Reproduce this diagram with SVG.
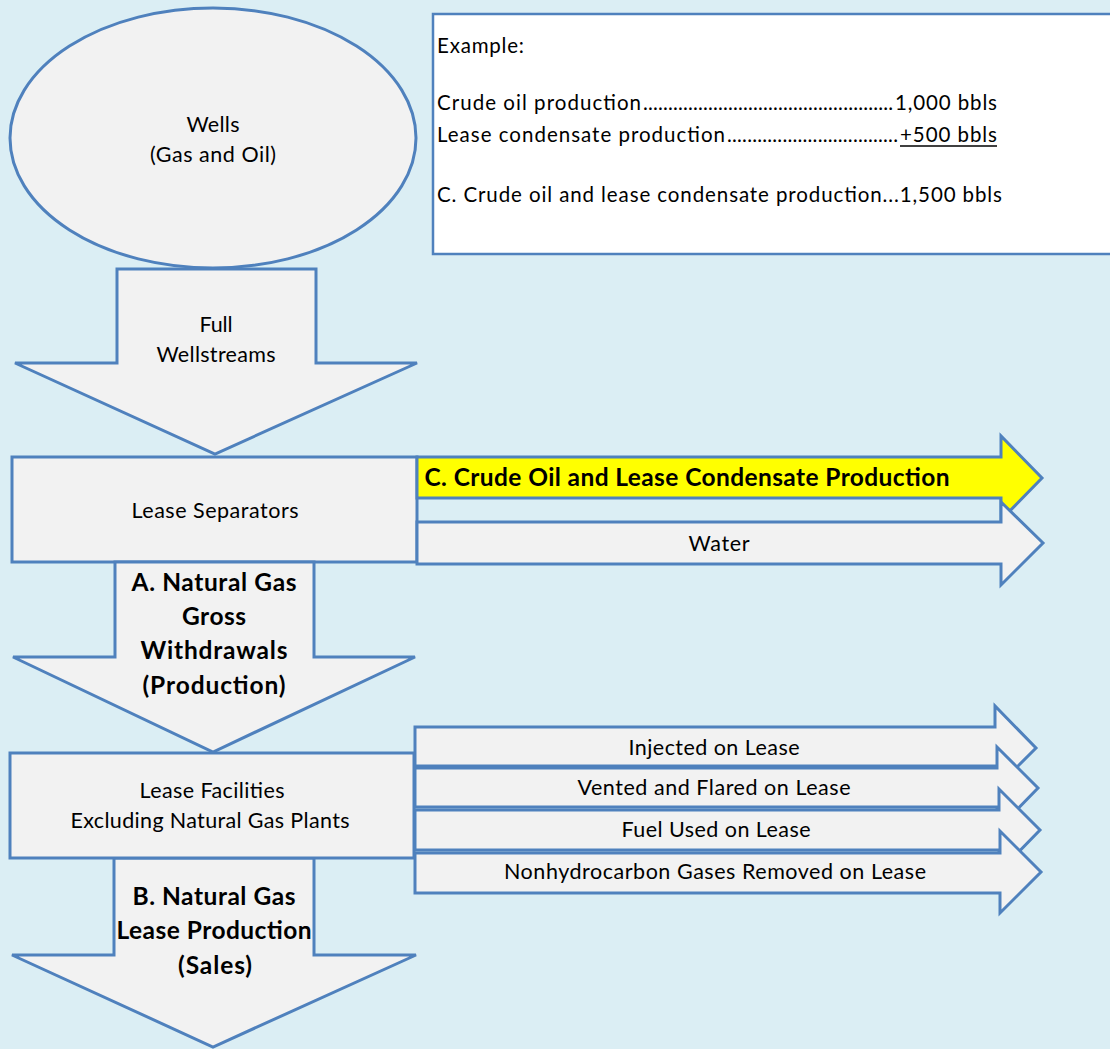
<svg xmlns="http://www.w3.org/2000/svg" width="1110" height="1049" viewBox="0 0 1110 1049">
<style>
.s{fill:#F2F2F2;stroke:#4F81BD;stroke-width:3;stroke-linejoin:miter}
.y{fill:#FFFF00;stroke:#4F81BD;stroke-width:3}
.t{font-family:Lato,"Liberation Sans",sans-serif;font-size:21.5px;fill:#000;text-anchor:middle}
.b{font-family:Lato,"Liberation Sans",sans-serif;font-size:24.5px;font-weight:bold;fill:#000;text-anchor:middle}
.e{font-family:Lato,"Liberation Sans",sans-serif;font-size:20.5px;fill:#000}
</style>
<rect width="1110" height="1049" fill="#DBEEF4"/>
<g id="example-box">
<rect x="433" y="14" width="690" height="240" fill="#FFFFFF" stroke="#4F81BD" stroke-width="2.5"/>
<text class="e" x="437" y="53" textLength="87" lengthAdjust="spacing">Example:</text>
<text class="e" x="437" y="110" textLength="204" lengthAdjust="spacing">Crude  oil  production</text>
<text class="e" x="643" y="110" textLength="250" lengthAdjust="spacing">..................................................</text>
<text class="e" x="895" y="110" textLength="102" lengthAdjust="spacing">1,000  bbls</text>
<text class="e" x="437" y="142" textLength="288" lengthAdjust="spacing">Lease  condensate  production</text>
<text class="e" x="727" y="142" textLength="171" lengthAdjust="spacing">..................................</text>
<text class="e" x="900" y="142" textLength="97" lengthAdjust="spacing">+500  bbls</text>
<line x1="900" y1="146" x2="997" y2="146" stroke="#000" stroke-width="1.5"/>
<text class="e" x="437" y="202" textLength="565" lengthAdjust="spacing">C. Crude oil and lease condensate production...1,500 bbls</text>
</g>
<g id="wells">
<ellipse class="s" cx="213" cy="138" rx="203" ry="130"/>
<text class="t" x="213" y="132" textLength="53" lengthAdjust="spacing">Wells</text>
<text class="t" x="213" y="162" textLength="126" lengthAdjust="spacing">(Gas and Oil)</text>
</g>
<g id="connectors">
<g id="full-wellstreams">
<polygon class="s" points="117,269 316,269 316,363 417,363 215,454 15,363 117,363"/>
<text class="t" x="216" y="332" textLength="33" lengthAdjust="spacing">Full</text>
<text class="t" x="216" y="362" textLength="119" lengthAdjust="spacing">Wellstreams</text>
</g>
</g>
<g id="lease-separators">
<rect class="s" x="12" y="457" width="405" height="105"/>
<text class="t" x="215" y="518" textLength="167" lengthAdjust="spacing">Lease  Separators</text>
</g>
<g id="connectors-2">
<g id="crude-oil">
<polygon class="y" points="417,457 1001,457 1001,436 1042,478 1001,520 1001,498 417,498"/>
<text class="b" x="687" y="486" textLength="525" lengthAdjust="spacing">C. Crude Oil and Lease Condensate Production</text>
</g>
<g id="water">
<polygon class="s" points="417,522 1001,522 1001,502 1043,543 1001,585 1001,564 417,564"/>
<text class="t" x="719" y="551" textLength="61" lengthAdjust="spacing">Water</text>
</g>
<g id="gross-withdrawals">
<polygon class="s" points="115,562 314,562 314,657 415,657 213,752 13,657 115,657"/>
<text class="b" x="214" y="591" textLength="165" lengthAdjust="spacing">A. Natural Gas</text>
<text class="b" x="214" y="625" textLength="64" lengthAdjust="spacing">Gross</text>
<text class="b" x="214" y="659" textLength="147" lengthAdjust="spacing">Withdrawals</text>
<text class="b" x="214" y="694" textLength="143" lengthAdjust="spacing">(Production)</text>
</g>
<g id="injected">
<polygon class="s" points="415,727 995,727 995,706 1036,748 995,789 995,766 415,766"/>
<text class="t" x="714" y="755" textLength="171" lengthAdjust="spacing">Injected on Lease</text>
</g>
<g id="vented">
<polygon class="s" points="415,768 997,768 997,747 1038,788 997,830 997,807 415,807"/>
<text class="t" x="714" y="795" textLength="273" lengthAdjust="spacing">Vented and Flared on Lease</text>
</g>
<g id="fuel">
<polygon class="s" points="415,810 999,810 999,789 1040,830 999,872 999,850 415,850"/>
<text class="t" x="716" y="837" textLength="189" lengthAdjust="spacing">Fuel Used on Lease</text>
</g>
<g id="nonhydrocarbon">
<polygon class="s" points="415,853 1000,853 1000,831 1041,872 1000,913 1000,893 415,893"/>
<text class="t" x="715" y="879" textLength="422" lengthAdjust="spacing">Nonhydrocarbon Gases Removed on Lease</text>
</g>
<g id="lease-production">
<polygon class="s" points="114,858 314,858 314,955 416,955 213,1047 12,955 114,955"/>
<text class="b" x="214" y="905" textLength="163" lengthAdjust="spacing">B. Natural Gas</text>
<text class="b" x="214" y="939" textLength="195" lengthAdjust="spacing">Lease Production</text>
<text class="b" x="215" y="974" textLength="74" lengthAdjust="spacing">(Sales)</text>
</g>
</g>
<g id="lease-facilities">
<rect class="s" x="10" y="753" width="404" height="105"/>
<text class="t" x="212" y="798" textLength="145" lengthAdjust="spacing">Lease  Facilities</text>
<text class="t" x="210" y="828" textLength="279" lengthAdjust="spacing">Excluding  Natural  Gas  Plants</text>
</g>
</svg>
